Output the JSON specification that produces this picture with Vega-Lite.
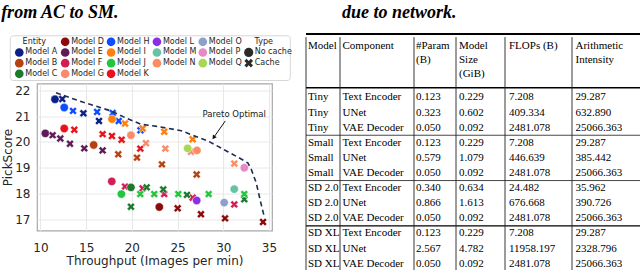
{
"$schema": "https://vega.github.io/schema/vega-lite/v6.json",
"padding": {"left": 1, "top": 4, "right": 0, "bottom": 0},
"background": "white",
"config": {
  "font": "DejaVu Sans",
  "view": {"stroke": null},
  "axis": {"labelFont": "DejaVu Sans", "labelFontSize": 12, "labelColor": "#262626", "titleFont": "DejaVu Sans", "titleFontSize": 12, "titleFontWeight": "normal", "titleColor": "#262626", "domain": false, "ticks": false, "gridColor": "#e8e8e8", "gridWidth": 1, "labelOverlap": false}
},
"datasets": {
  "points": [
    {"entity":"A","type":"No cache","throughput":11.59,"pickscore":21.65},
    {"entity":"A","type":"Cache","throughput":12.39,"pickscore":21.66},
    {"entity":"A","type":"Cache","throughput":14.7,"pickscore":21.11},
    {"entity":"A","type":"Cache","throughput":16.4,"pickscore":20.81},
    {"entity":"H","type":"No cache","throughput":12.6,"pickscore":21.33},
    {"entity":"H","type":"Cache","throughput":13.56,"pickscore":21.2},
    {"entity":"H","type":"Cache","throughput":16.2,"pickscore":21.16},
    {"entity":"H","type":"Cache","throughput":17.9,"pickscore":21.12},
    {"entity":"H","type":"Cache","throughput":18.56,"pickscore":20.81},
    {"entity":"H","type":"Cache","throughput":20.94,"pickscore":20.45},
    {"entity":"I","type":"No cache","throughput":17.83,"pickscore":20.88},
    {"entity":"I","type":"Cache","throughput":19.25,"pickscore":20.71},
    {"entity":"I","type":"Cache","throughput":21.18,"pickscore":20.52},
    {"entity":"I","type":"Cache","throughput":23.54,"pickscore":20.39},
    {"entity":"I","type":"Cache","throughput":26.65,"pickscore":20.1},
    {"entity":"K","type":"No cache","throughput":12.6,"pickscore":20.52},
    {"entity":"K","type":"Cache","throughput":13.7,"pickscore":20.47},
    {"entity":"K","type":"Cache","throughput":16.8,"pickscore":20.3},
    {"entity":"K","type":"Cache","throughput":17.82,"pickscore":20.23},
    {"entity":"K","type":"Cache","throughput":18.88,"pickscore":20.08},
    {"entity":"K","type":"Cache","throughput":20.92,"pickscore":19.74},
    {"entity":"E","type":"No cache","throughput":10.53,"pickscore":20.33},
    {"entity":"E","type":"Cache","throughput":11.33,"pickscore":20.26},
    {"entity":"E","type":"Cache","throughput":12.17,"pickscore":20.13},
    {"entity":"E","type":"Cache","throughput":13.23,"pickscore":19.93},
    {"entity":"E","type":"Cache","throughput":14.79,"pickscore":19.75},
    {"entity":"E","type":"Cache","throughput":16.8,"pickscore":19.67},
    {"entity":"B","type":"No cache","throughput":15.82,"pickscore":19.88},
    {"entity":"B","type":"Cache","throughput":18.51,"pickscore":19.52},
    {"entity":"B","type":"Cache","throughput":20.56,"pickscore":19.39},
    {"entity":"B","type":"Cache","throughput":23.29,"pickscore":19.13},
    {"entity":"B","type":"Cache","throughput":27.09,"pickscore":18.74},
    {"entity":"G","type":"No cache","throughput":19.9,"pickscore":20.26},
    {"entity":"G","type":"Cache","throughput":21.54,"pickscore":19.95},
    {"entity":"G","type":"Cache","throughput":23.66,"pickscore":19.74},
    {"entity":"G","type":"Cache","throughput":26.47,"pickscore":19.62},
    {"entity":"Q","type":"No cache","throughput":26.1,"pickscore":19.75},
    {"entity":"N","type":"No cache","throughput":27.12,"pickscore":19.67},
    {"entity":"N","type":"Cache","throughput":31.2,"pickscore":19.16},
    {"entity":"P","type":"No cache","throughput":32.3,"pickscore":19.0},
    {"entity":"F","type":"No cache","throughput":17.8,"pickscore":18.47},
    {"entity":"F","type":"Cache","throughput":19.25,"pickscore":18.27},
    {"entity":"F","type":"Cache","throughput":21.18,"pickscore":18.2},
    {"entity":"F","type":"Cache","throughput":23.54,"pickscore":17.98},
    {"entity":"F","type":"Cache","throughput":26.65,"pickscore":17.84},
    {"entity":"F","type":"Cache","throughput":31.2,"pickscore":17.58},
    {"entity":"C","type":"No cache","throughput":19.9,"pickscore":18.24},
    {"entity":"C","type":"Cache","throughput":21.62,"pickscore":18.24},
    {"entity":"C","type":"Cache","throughput":23.43,"pickscore":18.16},
    {"entity":"C","type":"Cache","throughput":26.03,"pickscore":17.95},
    {"entity":"C","type":"Cache","throughput":32.3,"pickscore":17.78},
    {"entity":"C","type":"Cache","throughput":19.9,"pickscore":17.49},
    {"entity":"J","type":"No cache","throughput":18.85,"pickscore":17.98},
    {"entity":"J","type":"Cache","throughput":20.92,"pickscore":17.98},
    {"entity":"J","type":"Cache","throughput":22.45,"pickscore":17.98},
    {"entity":"J","type":"Cache","throughput":25.08,"pickscore":17.98},
    {"entity":"J","type":"Cache","throughput":28.4,"pickscore":17.98},
    {"entity":"J","type":"Cache","throughput":32.3,"pickscore":17.98},
    {"entity":"L","type":"No cache","throughput":27.09,"pickscore":17.73},
    {"entity":"M","type":"No cache","throughput":31.2,"pickscore":18.17},
    {"entity":"O","type":"No cache","throughput":30.1,"pickscore":17.65},
    {"entity":"D","type":"No cache","throughput":23.0,"pickscore":17.48},
    {"entity":"D","type":"Cache","throughput":25.01,"pickscore":17.43},
    {"entity":"D","type":"Cache","throughput":27.56,"pickscore":17.2},
    {"entity":"D","type":"Cache","throughput":30.19,"pickscore":17.04},
    {"entity":"D","type":"Cache","throughput":34.35,"pickscore":16.9}
  ],
  "pareto": [
    {"throughput":11.7,"pickscore":21.9},
    {"throughput":14.7,"pickscore":21.53},
    {"throughput":17.7,"pickscore":21.2},
    {"throughput":19.5,"pickscore":20.9},
    {"throughput":21.0,"pickscore":20.68},
    {"throughput":22.8,"pickscore":20.6},
    {"throughput":25.4,"pickscore":20.43},
    {"throughput":28.3,"pickscore":20.04},
    {"throughput":30.5,"pickscore":19.62},
    {"throughput":32.0,"pickscore":19.33},
    {"throughput":32.7,"pickscore":19.18},
    {"throughput":33.05,"pickscore":18.95},
    {"throughput":33.6,"pickscore":18.42},
    {"throughput":34.1,"pickscore":17.65},
    {"throughput":34.45,"pickscore":17.15}
  ],
  "arrow": [{"throughput":30.22,"pickscore":20.81,"throughput2":28.95,"pickscore2":20.17}],
  "arrowhead": [{"throughput":28.95,"pickscore":20.17}],
  "note": [{"throughput":31.2,"pickscore":21.07,"label":"Pareto Optimal"}],
  "legend": [
    {"label":"Entity","kind":"head","legendCol":0,"legendRow":0},
    {"label":"Model A","kind":"ent","entity":"A","legendCol":0,"legendRow":1},
    {"label":"Model B","kind":"ent","entity":"B","legendCol":0,"legendRow":2},
    {"label":"Model C","kind":"ent","entity":"C","legendCol":0,"legendRow":3},
    {"label":"Model D","kind":"ent","entity":"D","legendCol":1,"legendRow":0},
    {"label":"Model E","kind":"ent","entity":"E","legendCol":1,"legendRow":1},
    {"label":"Model F","kind":"ent","entity":"F","legendCol":1,"legendRow":2},
    {"label":"Model G","kind":"ent","entity":"G","legendCol":1,"legendRow":3},
    {"label":"Model H","kind":"ent","entity":"H","legendCol":2,"legendRow":0},
    {"label":"Model I","kind":"ent","entity":"I","legendCol":2,"legendRow":1},
    {"label":"Model J","kind":"ent","entity":"J","legendCol":2,"legendRow":2},
    {"label":"Model K","kind":"ent","entity":"K","legendCol":2,"legendRow":3},
    {"label":"Model L","kind":"ent","entity":"L","legendCol":3,"legendRow":0},
    {"label":"Model M","kind":"ent","entity":"M","legendCol":3,"legendRow":1},
    {"label":"Model N","kind":"ent","entity":"N","legendCol":3,"legendRow":2},
    {"label":"Model O","kind":"ent","entity":"O","legendCol":4,"legendRow":0},
    {"label":"Model P","kind":"ent","entity":"P","legendCol":4,"legendRow":1},
    {"label":"Model Q","kind":"ent","entity":"Q","legendCol":4,"legendRow":2},
    {"label":"Type","kind":"head","legendCol":5,"legendRow":0},
    {"label":"No cache","kind":"type","type":"No cache","legendCol":5,"legendRow":1},
    {"label":"Cache","kind":"type","type":"Cache","legendCol":5,"legendRow":2}
  ],
  "table": [
    {"row":1,"model":"Tiny","comp":"Text Encoder","param":"0.123","size":"0.229","flops":"7.208","ai":"29.287"},
    {"row":2,"model":"Tiny","comp":"UNet","param":"0.323","size":"0.602","flops":"409.334","ai":"632.890"},
    {"row":3,"model":"Tiny","comp":"VAE Decoder","param":"0.050","size":"0.092","flops":"2481.078","ai":"25066.363"},
    {"row":4,"model":"Small","comp":"Text Encoder","param":"0.123","size":"0.229","flops":"7.208","ai":"29.287"},
    {"row":5,"model":"Small","comp":"UNet","param":"0.579","size":"1.079","flops":"446.639","ai":"385.442"},
    {"row":6,"model":"Small","comp":"VAE Decoder","param":"0.050","size":"0.092","flops":"2481.078","ai":"25066.363"},
    {"row":7,"model":"SD 2.0","comp":"Text Encoder","param":"0.340","size":"0.634","flops":"24.482","ai":"35.962"},
    {"row":8,"model":"SD 2.0","comp":"UNet","param":"0.866","size":"1.613","flops":"676.668","ai":"390.726"},
    {"row":9,"model":"SD 2.0","comp":"VAE Decoder","param":"0.050","size":"0.092","flops":"2481.078","ai":"25066.363"},
    {"row":10,"model":"SD XL","comp":"Text Encoder","param":"0.123","size":"0.229","flops":"7.208","ai":"29.287"},
    {"row":11,"model":"SD XL","comp":"UNet","param":"2.567","size":"4.782","flops":"11958.197","ai":"2328.796"},
    {"row":12,"model":"SD XL","comp":"VAE Decoder","param":"0.050","size":"0.092","flops":"2481.078","ai":"25066.363"}
  ]
},
"spacing": 13,
"hconcat": [
 {
  "title": {"text": "from AC to SM.", "anchor": "start", "font": "Liberation Serif", "fontSize": 18, "fontStyle": "italic", "fontWeight": "bold", "color": "#000", "baseline": "alphabetic", "offset": -2},
  "spacing": 0.5,
  "vconcat": [
   {
    "width": 254, "height": 48,
    "layer": [
     {"data": {"values": [{}]},
      "mark": {"type": "rect", "fill": "white", "stroke": "#d6d6d6", "strokeWidth": 1, "cornerRadius": 3},
      "encoding": {
        "x": {"datum": -0.196, "type": "quantitative", "scale": {"domain": [0.386, 5.922], "nice": false, "zero": false}, "axis": null},
        "x2": {"datum": 5.907},
        "y": {"datum": -0.562, "type": "quantitative", "scale": {"domain": [-0.731, 3.768], "reverse": true, "nice": false, "zero": false}, "axis": null},
        "y2": {"datum": 3.627}
      }},
     {"data": {"name": "legend"}, "transform": [{"filter": "datum.kind == 'ent'"}],
      "mark": {"type": "point", "filled": true, "shape": "circle", "size": 75, "opacity": 1},
      "encoding": {
        "x": {"field": "legendCol", "type": "quantitative", "scale": {"domain": [0.386, 5.922], "nice": false, "zero": false}, "axis": null},
        "y": {"field": "legendRow", "type": "quantitative", "scale": {"domain": [-0.731, 3.768], "reverse": true, "nice": false, "zero": false}, "axis": null},
        "color": {"field": "entity", "type": "nominal", "legend": null, "scale": {"domain": ["A","B","C","D","E","F","G","H","I","J","K","L","M","N","O","P","Q"], "range": ["#0c1f86","#b5420f","#1b7a2c","#8b0a0a","#5e1b57","#d21d55","#f88b6c","#0b4dff","#ff7f0e","#22c63d","#e8121d","#8e2ee2","#66c2a5","#fc8d62","#8da0cb","#e78ac3","#a6d854"]}}
      }},
     {"data": {"name": "legend"}, "transform": [{"filter": "datum.kind == 'type'"}],
      "mark": {"type": "point", "filled": true, "size": 85, "opacity": 1, "color": "#2b2b2b"},
      "encoding": {
        "x": {"field": "legendCol", "type": "quantitative", "scale": {"domain": [0.386, 5.922], "nice": false, "zero": false}, "axis": null},
        "y": {"field": "legendRow", "type": "quantitative", "scale": {"domain": [-0.731, 3.768], "reverse": true, "nice": false, "zero": false}, "axis": null},
        "shape": {"field": "type", "type": "nominal", "legend": null, "scale": {"domain": ["No cache","Cache"], "range": ["circle","M0.471,-0.943L0,-0.471L-0.471,-0.943L-0.943,-0.471L-0.471,0L-0.943,0.471L-0.471,0.943L0,0.471L0.471,0.943L0.943,0.471L0.471,0L0.943,-0.471Z"]}}
      }},
     {"data": {"name": "legend"}, "transform": [{"filter": "datum.kind != 'head'"}],
      "mark": {"type": "text", "align": "left", "baseline": "middle", "dx": 6, "fontSize": 8, "color": "#262626"},
      "encoding": {
        "x": {"field": "legendCol", "type": "quantitative", "scale": {"domain": [0.386, 5.922], "nice": false, "zero": false}, "axis": null},
        "y": {"field": "legendRow", "type": "quantitative", "scale": {"domain": [-0.731, 3.768], "reverse": true, "nice": false, "zero": false}, "axis": null},
        "text": {"field": "label"}
      }},
     {"data": {"name": "legend"}, "transform": [{"filter": "datum.kind == 'head'"}],
      "mark": {"type": "text", "align": "center", "baseline": "middle", "dx": 15, "fontSize": 8, "color": "#262626"},
      "encoding": {
        "x": {"field": "legendCol", "type": "quantitative", "scale": {"domain": [0.386, 5.922], "nice": false, "zero": false}, "axis": null},
        "y": {"field": "legendRow", "type": "quantitative", "scale": {"domain": [-0.731, 3.768], "reverse": true, "nice": false, "zero": false}, "axis": null},
        "text": {"field": "label"}
      }}
    ]
   },
   {
    "width": 235, "height": 147,
    "view": {"stroke": "#a8a8a8", "strokeWidth": 1.2},
    "encoding": {
      "x": {"field": "throughput", "type": "quantitative", "scale": {"domain": [9.62, 35.33], "nice": false, "zero": false}, "axis": {"title": "Throughput (Images per min)", "values": [10,15,20,25,30,35], "labelPadding": 12, "titlePadding": 2, "grid": true, "labelOverlap": false}},
      "y": {"field": "pickscore", "type": "quantitative", "scale": {"domain": [16.57, 22.26], "nice": false, "zero": false}, "axis": {"title": "PickScore", "values": [17,18,19,20,21,22], "tickCount": 6, "labelPadding": 7, "titlePadding": 0, "grid": true, "labelOverlap": false, "labelFlush": false, "labelBound": false}}
    },
    "layer": [
     {"data": {"name": "points"},
      "mark": {"type": "point", "filled": true, "size": 70, "opacity": 1, "stroke": "white", "strokeWidth": 0.5},
      "encoding": {
        "color": {"field": "entity", "type": "nominal", "legend": null, "scale": {"domain": ["A","B","C","D","E","F","G","H","I","J","K","L","M","N","O","P","Q"], "range": ["#0c1f86","#b5420f","#1b7a2c","#8b0a0a","#5e1b57","#d21d55","#f88b6c","#0b4dff","#ff7f0e","#22c63d","#e8121d","#8e2ee2","#66c2a5","#fc8d62","#8da0cb","#e78ac3","#a6d854"]}},
        "shape": {"field": "type", "type": "nominal", "legend": null, "scale": {"domain": ["No cache","Cache"], "range": ["circle","M0.471,-0.943L0,-0.471L-0.471,-0.943L-0.943,-0.471L-0.471,0L-0.943,0.471L-0.471,0.943L0,0.471L0.471,0.943L0.943,0.471L0.471,0L0.943,-0.471Z"]}}
      }},
     {"data": {"name": "pareto"},
      "mark": {"type": "line", "color": "#1f2d52", "strokeWidth": 1.6, "strokeDash": [5, 3.5]},
      "encoding": {}},
     {"data": {"name": "arrow"},
      "mark": {"type": "rule", "color": "#111", "strokeWidth": 1},
      "encoding": {"x2": {"field": "throughput2"}, "y2": {"field": "pickscore2"}}},
     {"data": {"name": "arrowhead"},
      "mark": {"type": "point", "shape": "triangle-up", "filled": true, "size": 22, "angle": 215, "color": "#111", "opacity": 1},
      "encoding": {}},
     {"data": {"name": "note"},
      "mark": {"type": "text", "fontSize": 8.5, "color": "#1a1a1a", "align": "center", "baseline": "middle"},
      "encoding": {"text": {"field": "label"}}}
    ]
   }
  ]
 },
 {
  "title": {"text": "due to network.", "anchor": "start", "font": "Liberation Serif", "fontSize": 18, "fontStyle": "italic", "fontWeight": "bold", "color": "#000", "baseline": "alphabetic", "offset": -3, "dx": 37},
  "bounds": "flush",
  "spacing": 0,
  "hconcat": [
   {"width": 34, "height": 237, "layer": [
     {"data": {"name": "table"}, "mark": {"type": "text", "align": "left", "baseline": "middle", "font": "Liberation Serif", "fontSize": 11, "color": "#000", "dx": 2},
      "encoding": {"x": {"datum": 0, "type": "quantitative", "scale": {"domain": [0, 1], "nice": false, "zero": false}, "axis": null}, "y": {"field": "row", "type": "quantitative", "scale": {"domain": [-3.205, 12.49], "reverse": true, "nice": false, "zero": false}, "axis": null}, "text": {"field": "model"}}},
     {"data": {"values": [{}]}, "mark": {"type": "text", "align": "left", "baseline": "top", "font": "Liberation Serif", "fontSize": 11, "color": "#000", "dx": 2, "lineHeight": 13.7},
      "encoding": {"x": {"datum": 0, "type": "quantitative"}, "y": {"datum": -2.8, "type": "quantitative"}, "text": {"value": ["Model"]}}},
     {"data": {"values": [{}]}, "mark": {"type": "rule", "color": "#000", "strokeWidth": 2}, "encoding": {"y": {"datum": -3.205, "type": "quantitative"}}},
     {"data": {"values": [{}]}, "mark": {"type": "rule", "color": "#000", "strokeWidth": 1.5}, "encoding": {"y": {"datum": 0.36, "type": "quantitative"}}},
     {"data": {"values": [{}]}, "mark": {"type": "rule", "color": "#333", "strokeWidth": 0.9}, "encoding": {"y": {"datum": 3.5, "type": "quantitative"}}},
     {"data": {"values": [{}]}, "mark": {"type": "rule", "color": "#333", "strokeWidth": 0.9}, "encoding": {"y": {"datum": 6.5, "type": "quantitative"}}},
     {"data": {"values": [{}]}, "mark": {"type": "rule", "color": "#000", "strokeWidth": 1.3}, "encoding": {"y": {"datum": 9.5, "type": "quantitative"}}},
     {"data": {"values": [{}]}, "mark": {"type": "rule", "color": "#222", "strokeWidth": 0.9}, "encoding": {"x": {"datum": 0, "type": "quantitative"}, "y": {"datum": -3.0, "type": "quantitative"}, "y2": {"datum": 12.49}}}
   ]},
   {"width": 74, "height": 237, "layer": [
     {"data": {"name": "table"}, "mark": {"type": "text", "align": "left", "baseline": "middle", "font": "Liberation Serif", "fontSize": 11, "color": "#000", "dx": 2.5},
      "encoding": {"x": {"datum": 0, "type": "quantitative", "scale": {"domain": [0, 1], "nice": false, "zero": false}, "axis": null}, "y": {"field": "row", "type": "quantitative", "scale": {"domain": [-3.205, 12.49], "reverse": true, "nice": false, "zero": false}, "axis": null}, "text": {"field": "comp"}}},
     {"data": {"values": [{}]}, "mark": {"type": "text", "align": "left", "baseline": "top", "font": "Liberation Serif", "fontSize": 11, "color": "#000", "dx": 2.5, "lineHeight": 13.7},
      "encoding": {"x": {"datum": 0, "type": "quantitative"}, "y": {"datum": -2.8, "type": "quantitative"}, "text": {"value": ["Component"]}}},
     {"data": {"values": [{}]}, "mark": {"type": "rule", "color": "#000", "strokeWidth": 2}, "encoding": {"y": {"datum": -3.205, "type": "quantitative"}}},
     {"data": {"values": [{}]}, "mark": {"type": "rule", "color": "#000", "strokeWidth": 1.5}, "encoding": {"y": {"datum": 0.36, "type": "quantitative"}}},
     {"data": {"values": [{}]}, "mark": {"type": "rule", "color": "#333", "strokeWidth": 0.9}, "encoding": {"y": {"datum": 3.5, "type": "quantitative"}}},
     {"data": {"values": [{}]}, "mark": {"type": "rule", "color": "#333", "strokeWidth": 0.9}, "encoding": {"y": {"datum": 6.5, "type": "quantitative"}}},
     {"data": {"values": [{}]}, "mark": {"type": "rule", "color": "#000", "strokeWidth": 1.3}, "encoding": {"y": {"datum": 9.5, "type": "quantitative"}}},
     {"data": {"values": [{}]}, "mark": {"type": "rule", "color": "#222", "strokeWidth": 0.9}, "encoding": {"x": {"datum": 0, "type": "quantitative"}, "y": {"datum": -3.0, "type": "quantitative"}, "y2": {"datum": 12.49}}}
   ]},
   {"width": 42, "height": 237, "layer": [
     {"data": {"name": "table"}, "mark": {"type": "text", "align": "left", "baseline": "middle", "font": "Liberation Serif", "fontSize": 11, "color": "#000", "dx": 2},
      "encoding": {"x": {"datum": 0, "type": "quantitative", "scale": {"domain": [0, 1], "nice": false, "zero": false}, "axis": null}, "y": {"field": "row", "type": "quantitative", "scale": {"domain": [-3.205, 12.49], "reverse": true, "nice": false, "zero": false}, "axis": null}, "text": {"field": "param"}}},
     {"data": {"values": [{}]}, "mark": {"type": "text", "align": "left", "baseline": "top", "font": "Liberation Serif", "fontSize": 11, "color": "#000", "dx": 2, "lineHeight": 13.7},
      "encoding": {"x": {"datum": 0, "type": "quantitative"}, "y": {"datum": -2.8, "type": "quantitative"}, "text": {"value": ["#Param", "(B)"]}}},
     {"data": {"values": [{}]}, "mark": {"type": "rule", "color": "#000", "strokeWidth": 2}, "encoding": {"y": {"datum": -3.205, "type": "quantitative"}}},
     {"data": {"values": [{}]}, "mark": {"type": "rule", "color": "#000", "strokeWidth": 1.5}, "encoding": {"y": {"datum": 0.36, "type": "quantitative"}}},
     {"data": {"values": [{}]}, "mark": {"type": "rule", "color": "#333", "strokeWidth": 0.9}, "encoding": {"y": {"datum": 3.5, "type": "quantitative"}}},
     {"data": {"values": [{}]}, "mark": {"type": "rule", "color": "#333", "strokeWidth": 0.9}, "encoding": {"y": {"datum": 6.5, "type": "quantitative"}}},
     {"data": {"values": [{}]}, "mark": {"type": "rule", "color": "#000", "strokeWidth": 1.3}, "encoding": {"y": {"datum": 9.5, "type": "quantitative"}}},
     {"data": {"values": [{}]}, "mark": {"type": "rule", "color": "#222", "strokeWidth": 0.9}, "encoding": {"x": {"datum": 0, "type": "quantitative"}, "y": {"datum": -3.0, "type": "quantitative"}, "y2": {"datum": 12.49}}}
   ]},
   {"width": 49, "height": 237, "layer": [
     {"data": {"name": "table"}, "mark": {"type": "text", "align": "left", "baseline": "middle", "font": "Liberation Serif", "fontSize": 11, "color": "#000", "dx": 3},
      "encoding": {"x": {"datum": 0, "type": "quantitative", "scale": {"domain": [0, 1], "nice": false, "zero": false}, "axis": null}, "y": {"field": "row", "type": "quantitative", "scale": {"domain": [-3.205, 12.49], "reverse": true, "nice": false, "zero": false}, "axis": null}, "text": {"field": "size"}}},
     {"data": {"values": [{}]}, "mark": {"type": "text", "align": "left", "baseline": "top", "font": "Liberation Serif", "fontSize": 11, "color": "#000", "dx": 3, "lineHeight": 13.7},
      "encoding": {"x": {"datum": 0, "type": "quantitative"}, "y": {"datum": -2.8, "type": "quantitative"}, "text": {"value": ["Model", "Size", "(GiB)"]}}},
     {"data": {"values": [{}]}, "mark": {"type": "rule", "color": "#000", "strokeWidth": 2}, "encoding": {"y": {"datum": -3.205, "type": "quantitative"}}},
     {"data": {"values": [{}]}, "mark": {"type": "rule", "color": "#000", "strokeWidth": 1.5}, "encoding": {"y": {"datum": 0.36, "type": "quantitative"}}},
     {"data": {"values": [{}]}, "mark": {"type": "rule", "color": "#333", "strokeWidth": 0.9}, "encoding": {"y": {"datum": 3.5, "type": "quantitative"}}},
     {"data": {"values": [{}]}, "mark": {"type": "rule", "color": "#333", "strokeWidth": 0.9}, "encoding": {"y": {"datum": 6.5, "type": "quantitative"}}},
     {"data": {"values": [{}]}, "mark": {"type": "rule", "color": "#000", "strokeWidth": 1.3}, "encoding": {"y": {"datum": 9.5, "type": "quantitative"}}},
     {"data": {"values": [{}]}, "mark": {"type": "rule", "color": "#222", "strokeWidth": 0.9}, "encoding": {"x": {"datum": 0, "type": "quantitative"}, "y": {"datum": -3.0, "type": "quantitative"}, "y2": {"datum": 12.49}}}
   ]},
   {"width": 67, "height": 237, "layer": [
     {"data": {"name": "table"}, "mark": {"type": "text", "align": "left", "baseline": "middle", "font": "Liberation Serif", "fontSize": 11, "color": "#000", "dx": 4},
      "encoding": {"x": {"datum": 0, "type": "quantitative", "scale": {"domain": [0, 1], "nice": false, "zero": false}, "axis": null}, "y": {"field": "row", "type": "quantitative", "scale": {"domain": [-3.205, 12.49], "reverse": true, "nice": false, "zero": false}, "axis": null}, "text": {"field": "flops"}}},
     {"data": {"values": [{}]}, "mark": {"type": "text", "align": "left", "baseline": "top", "font": "Liberation Serif", "fontSize": 11, "color": "#000", "dx": 4, "lineHeight": 13.7},
      "encoding": {"x": {"datum": 0, "type": "quantitative"}, "y": {"datum": -2.8, "type": "quantitative"}, "text": {"value": ["FLOPs (B)"]}}},
     {"data": {"values": [{}]}, "mark": {"type": "rule", "color": "#000", "strokeWidth": 2}, "encoding": {"y": {"datum": -3.205, "type": "quantitative"}}},
     {"data": {"values": [{}]}, "mark": {"type": "rule", "color": "#000", "strokeWidth": 1.5}, "encoding": {"y": {"datum": 0.36, "type": "quantitative"}}},
     {"data": {"values": [{}]}, "mark": {"type": "rule", "color": "#333", "strokeWidth": 0.9}, "encoding": {"y": {"datum": 3.5, "type": "quantitative"}}},
     {"data": {"values": [{}]}, "mark": {"type": "rule", "color": "#333", "strokeWidth": 0.9}, "encoding": {"y": {"datum": 6.5, "type": "quantitative"}}},
     {"data": {"values": [{}]}, "mark": {"type": "rule", "color": "#000", "strokeWidth": 1.3}, "encoding": {"y": {"datum": 9.5, "type": "quantitative"}}},
     {"data": {"values": [{}]}, "mark": {"type": "rule", "color": "#222", "strokeWidth": 0.9}, "encoding": {"x": {"datum": 0, "type": "quantitative"}, "y": {"datum": -3.0, "type": "quantitative"}, "y2": {"datum": 12.49}}}
   ]},
   {"width": 69, "height": 237, "layer": [
     {"data": {"name": "table"}, "mark": {"type": "text", "align": "left", "baseline": "middle", "font": "Liberation Serif", "fontSize": 11, "color": "#000", "dx": 3.5},
      "encoding": {"x": {"datum": 0, "type": "quantitative", "scale": {"domain": [0, 1], "nice": false, "zero": false}, "axis": null}, "y": {"field": "row", "type": "quantitative", "scale": {"domain": [-3.205, 12.49], "reverse": true, "nice": false, "zero": false}, "axis": null}, "text": {"field": "ai"}}},
     {"data": {"values": [{}]}, "mark": {"type": "text", "align": "left", "baseline": "top", "font": "Liberation Serif", "fontSize": 11, "color": "#000", "dx": 3.5, "lineHeight": 13.7},
      "encoding": {"x": {"datum": 0, "type": "quantitative"}, "y": {"datum": -2.8, "type": "quantitative"}, "text": {"value": ["Arithmetic", "Intensity"]}}},
     {"data": {"values": [{}]}, "mark": {"type": "rule", "color": "#000", "strokeWidth": 2}, "encoding": {"y": {"datum": -3.205, "type": "quantitative"}}},
     {"data": {"values": [{}]}, "mark": {"type": "rule", "color": "#000", "strokeWidth": 1.5}, "encoding": {"y": {"datum": 0.36, "type": "quantitative"}}},
     {"data": {"values": [{}]}, "mark": {"type": "rule", "color": "#333", "strokeWidth": 0.9}, "encoding": {"y": {"datum": 3.5, "type": "quantitative"}}},
     {"data": {"values": [{}]}, "mark": {"type": "rule", "color": "#333", "strokeWidth": 0.9}, "encoding": {"y": {"datum": 6.5, "type": "quantitative"}}},
     {"data": {"values": [{}]}, "mark": {"type": "rule", "color": "#000", "strokeWidth": 1.3}, "encoding": {"y": {"datum": 9.5, "type": "quantitative"}}},
     {"data": {"values": [{}]}, "mark": {"type": "rule", "color": "#222", "strokeWidth": 0.9}, "encoding": {"x": {"datum": 0, "type": "quantitative"}, "y": {"datum": -3.0, "type": "quantitative"}, "y2": {"datum": 12.49}}}
   ]}
  ]
 }
]
}
